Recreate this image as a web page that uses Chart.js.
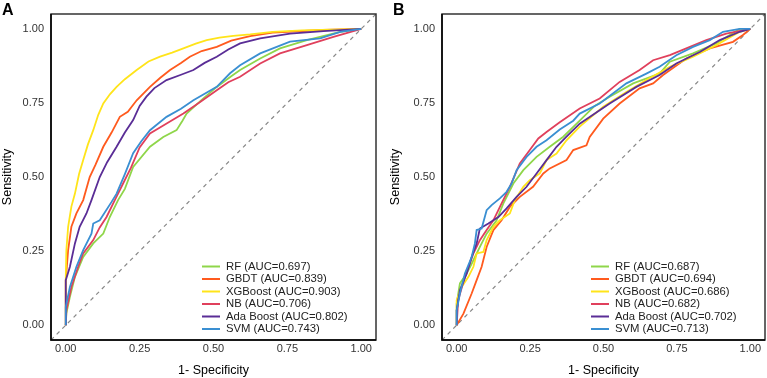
<!DOCTYPE html>
<html>
<head>
<meta charset="utf-8">
<script src="https://cdn.jsdelivr.net/npm/chart.js@4.4.1/dist/chart.umd.min.js"></script>
<style>
  html, body { margin: 0; padding: 0; background: #fff; }
  #wrap { position: relative; width: 767px; height: 378px; overflow: hidden; }
  #wrap canvas { position: absolute; top: 0; }
  .tag { position: absolute; top: 2px; font: bold 16px "Liberation Sans", Arial, sans-serif; line-height: 16px; color: #000; }
</style>
</head>
<body>
<div id="wrap">
  <canvas id="rocA" width="384" height="378" style="left:0"></canvas>
  <canvas id="rocB" width="383" height="378" style="left:384px"></canvas>
  <div class="tag" style="left:2px">A</div>
  <div class="tag" style="left:393px">B</div>
</div>
<script>
/* ---- labels ---- */
const models = ['RF', 'GBDT', 'XGBoost', 'NB', 'Ada Boost', 'SVM'];
const aucA = ['0.697', '0.839', '0.903', '0.706', '0.802', '0.743'];
const aucB = ['0.687', '0.694', '0.686', '0.682', '0.702', '0.713'];
const axisTicks = [0, 0.25, 0.5, 0.75, 1];
const colors = ['#8fd64a', '#ff5a1e', '#ffe41a', '#e0405c', '#5a2d96', '#3a8fd2'];

/* ---- panel A: [1 - specificity, sensitivity] ---- */
const rfA = [[0,0],[0.002,0.04],[0.014,0.096],[0.031,0.163],[0.059,0.23],[0.093,0.276],[0.127,0.309],[0.149,0.365],[0.177,0.422],[0.2,0.46],[0.228,0.534],[0.285,0.602],[0.33,0.635],[0.375,0.658],[0.395,0.69],[0.409,0.714],[0.46,0.76],[0.511,0.804],[0.56,0.84],[0.59,0.861],[0.658,0.9],[0.725,0.934],[0.816,0.962],[0.929,0.99],[1,1]];
const gbdtA = [[0,0],[0,0.152],[0.008,0.253],[0.019,0.332],[0.036,0.377],[0.059,0.422],[0.081,0.5],[0.1,0.54],[0.127,0.602],[0.155,0.65],[0.183,0.703],[0.21,0.72],[0.24,0.759],[0.285,0.804],[0.32,0.835],[0.353,0.861],[0.39,0.885],[0.42,0.906],[0.46,0.925],[0.511,0.939],[0.56,0.96],[0.624,0.975],[0.7,0.987],[0.87,0.996],[1,1]];
const xgbA = [[0,0],[0,0.163],[0.002,0.253],[0.008,0.332],[0.019,0.4],[0.031,0.444],[0.045,0.51],[0.059,0.557],[0.075,0.61],[0.093,0.658],[0.11,0.71],[0.127,0.748],[0.15,0.78],[0.172,0.804],[0.2,0.83],[0.24,0.861],[0.28,0.89],[0.319,0.906],[0.36,0.92],[0.398,0.934],[0.44,0.95],[0.477,0.962],[0.52,0.97],[0.567,0.976],[0.624,0.981],[0.7,0.99],[0.8,0.995],[1,1]];
const nbA = [[0,0],[0.002,0.05],[0.019,0.129],[0.042,0.197],[0.059,0.242],[0.093,0.287],[0.115,0.33],[0.138,0.365],[0.166,0.422],[0.194,0.478],[0.22,0.53],[0.25,0.6],[0.285,0.647],[0.34,0.68],[0.398,0.714],[0.45,0.75],[0.511,0.793],[0.55,0.82],[0.59,0.838],[0.658,0.883],[0.725,0.917],[0.816,0.945],[0.906,0.973],[1,1]];
const adaA = [[0,0],[0,0.152],[0.014,0.197],[0.031,0.276],[0.047,0.332],[0.07,0.377],[0.087,0.422],[0.115,0.5],[0.14,0.55],[0.172,0.602],[0.2,0.65],[0.228,0.692],[0.25,0.74],[0.273,0.771],[0.3,0.8],[0.341,0.827],[0.39,0.845],[0.432,0.861],[0.47,0.885],[0.511,0.906],[0.55,0.93],[0.59,0.951],[0.658,0.968],[0.759,0.984],[0.872,0.992],[1,1]];
const svmA = [[0,0],[0,0.062],[0.014,0.129],[0.036,0.197],[0.059,0.253],[0.087,0.309],[0.093,0.343],[0.115,0.354],[0.155,0.416],[0.172,0.444],[0.2,0.51],[0.228,0.58],[0.255,0.62],[0.285,0.658],[0.341,0.703],[0.39,0.73],[0.432,0.759],[0.511,0.804],[0.556,0.85],[0.59,0.877],[0.658,0.917],[0.759,0.957],[0.861,0.968],[0.929,0.99],[1,1]];

/* ---- panel B ---- */
const rfB = [[0,0],[0,0.073],[0.011,0.141],[0.034,0.174],[0.057,0.219],[0.079,0.264],[0.102,0.309],[0.136,0.354],[0.159,0.411],[0.193,0.478],[0.227,0.523],[0.272,0.568],[0.317,0.602],[0.363,0.636],[0.419,0.69],[0.47,0.74],[0.521,0.771],[0.601,0.816],[0.691,0.849],[0.726,0.889],[0.805,0.917],[0.884,0.951],[0.964,1],[1,1]];
const gbdtB = [[0,0],[0.023,0.039],[0.051,0.107],[0.068,0.152],[0.085,0.197],[0.102,0.264],[0.125,0.321],[0.153,0.354],[0.181,0.399],[0.215,0.433],[0.26,0.467],[0.295,0.512],[0.317,0.529],[0.374,0.557],[0.397,0.591],[0.442,0.607],[0.453,0.635],[0.499,0.697],[0.555,0.748],[0.623,0.799],[0.669,0.816],[0.703,0.844],[0.782,0.9],[0.862,0.934],[0.941,0.956],[0.975,0.979],[1,1]];
const xgbB = [[0,0],[0,0.084],[0.017,0.129],[0.04,0.163],[0.057,0.197],[0.068,0.242],[0.091,0.247],[0.102,0.287],[0.125,0.332],[0.147,0.354],[0.181,0.377],[0.198,0.422],[0.227,0.467],[0.249,0.489],[0.283,0.512],[0.306,0.557],[0.34,0.579],[0.374,0.624],[0.419,0.67],[0.499,0.737],[0.578,0.787],[0.646,0.827],[0.726,0.872],[0.805,0.906],[0.884,0.945],[0.964,0.99],[1,1]];
const nbB = [[0,0],[0.005,0.084],[0.028,0.163],[0.057,0.242],[0.079,0.287],[0.102,0.321],[0.125,0.354],[0.153,0.411],[0.181,0.467],[0.215,0.546],[0.249,0.591],[0.278,0.63],[0.306,0.652],[0.351,0.685],[0.419,0.731],[0.487,0.765],[0.555,0.821],[0.623,0.861],[0.669,0.894],[0.726,0.911],[0.782,0.934],[0.85,0.962],[0.918,0.984],[1,1]];
const adaB = [[0,0],[0,0.05],[0.011,0.118],[0.034,0.174],[0.051,0.23],[0.068,0.276],[0.079,0.326],[0.108,0.343],[0.142,0.365],[0.17,0.394],[0.204,0.433],[0.238,0.467],[0.272,0.512],[0.306,0.557],[0.34,0.602],[0.374,0.636],[0.419,0.68],[0.521,0.748],[0.612,0.804],[0.691,0.844],[0.748,0.883],[0.828,0.922],[0.896,0.962],[0.964,0.99],[1,1]];
const svmB = [[0,0],[0,0.05],[0.011,0.107],[0.028,0.174],[0.051,0.23],[0.062,0.276],[0.068,0.321],[0.085,0.326],[0.102,0.388],[0.119,0.405],[0.147,0.428],[0.17,0.45],[0.187,0.478],[0.204,0.523],[0.238,0.568],[0.272,0.602],[0.306,0.624],[0.351,0.66],[0.397,0.69],[0.419,0.714],[0.487,0.748],[0.578,0.816],[0.646,0.849],[0.691,0.872],[0.748,0.911],[0.805,0.939],[0.862,0.962],[0.907,0.99],[0.964,1],[1,1]];

const FONT = '"Liberation Sans", Arial, sans-serif';
Chart.defaults.font.family = FONT;

// box round the plot area (left/bottom axis lines a bit darker)
const framePlugin = {
  id: 'frame',
  afterDatasetsDraw(chart) {
    const { ctx, chartArea: a } = chart;
    ctx.save();
    ctx.strokeStyle = '#333';
    ctx.lineWidth = 1.5;
    ctx.strokeRect(a.left, a.top, a.right - a.left, a.bottom - a.top);
    ctx.strokeStyle = '#000';
    ctx.beginPath();
    ctx.moveTo(a.left, a.top);
    ctx.lineTo(a.left, a.bottom);
    ctx.lineTo(a.right, a.bottom);
    ctx.stroke();
    ctx.restore();
  }
};

// legend in the lower right corner, ggplot style
const rocLegend = {
  id: 'rocLegend',
  afterDraw(chart) {
    const { ctx, chartArea: a } = chart;
    const x0 = a.right - 174, y0 = a.bottom - 73.5;
    ctx.save();
    ctx.font = '11.3px ' + FONT;
    ctx.textBaseline = 'middle';
    chart.data.datasets.filter(d => !d.isRef).forEach((d, i) => {
      const y = y0 + i * 12.5;
      ctx.strokeStyle = d.borderColor;
      ctx.lineWidth = 2;
      ctx.beginPath();
      ctx.moveTo(x0, y);
      ctx.lineTo(x0 + 18, y);
      ctx.stroke();
      ctx.fillStyle = '#222';
      ctx.fillText(d.label, x0 + 24, y);
    });
    ctx.restore();
  }
};

function makePanel(id, curves, aucs, axisW, titlePad, padRight) {
  const datasets = curves.map((pts, i) => ({
    label: `${models[i]} (AUC=${aucs[i]})`,
    data: pts.map(p => ({ x: p[0], y: p[1] })),
    borderColor: colors[i],
    borderWidth: 1.8,
    pointRadius: 0,
    tension: 0,
    order: curves.length - i
  }));
  datasets.push({
    label: 'ref', isRef: true,
    data: [{ x: -0.05, y: -0.05 }, { x: 1.05, y: 1.05 }],
    borderColor: '#888', borderWidth: 1.2, borderDash: [4, 4],
    pointRadius: 0, order: 99
  });

  const tickOpts = pad => ({
    padding: pad, color: '#333', maxRotation: 0,
    font: { size: 11 },
    callback: v => Number(v).toFixed(2)
  });

  new Chart(document.getElementById(id), {
    type: 'line',
    data: { datasets },
    options: {
      responsive: false,
      animation: false,
      events: [],
      layout: { padding: { top: 14, right: padRight, left: 0, bottom: 0 } },
      plugins: { legend: { display: false }, tooltip: { enabled: false } },
      scales: {
        x: {
          type: 'linear', min: -0.05, max: 1.05,
          grid: { display: false, drawTicks: false },
          border: { display: false },
          afterBuildTicks: s => { s.ticks = axisTicks.map(v => ({ value: v })); },
          afterFit: s => { s.height = 38; },
          ticks: tickOpts(2.5),
          title: { display: true, text: '1- Specificity', color: '#000',
                   font: { size: 12.5 }, padding: { top: 0, bottom: 0 } }
        },
        y: {
          type: 'linear', min: -0.05, max: 1.05,
          grid: { display: false, drawTicks: false },
          border: { display: false },
          afterBuildTicks: s => { s.ticks = axisTicks.map(v => ({ value: v })); },
          afterFit: s => { s.width = axisW; },
          ticks: tickOpts(7),
          title: { display: true, text: 'Sensitivity', color: '#000',
                   font: { size: 12.5 }, padding: { top: titlePad, bottom: 0 } }
        }
      }
    },
    plugins: [framePlugin, rocLegend]
  });
}

makePanel('rocA', [rfA, gbdtA, xgbA, nbA, adaA, svmA], aucA, 51, 0.5, 8);
makePanel('rocB', [rfB, gbdtB, xgbB, nbB, adaB, svmB], aucB, 58, 4.5, 2);
</script>
</body>
</html>
